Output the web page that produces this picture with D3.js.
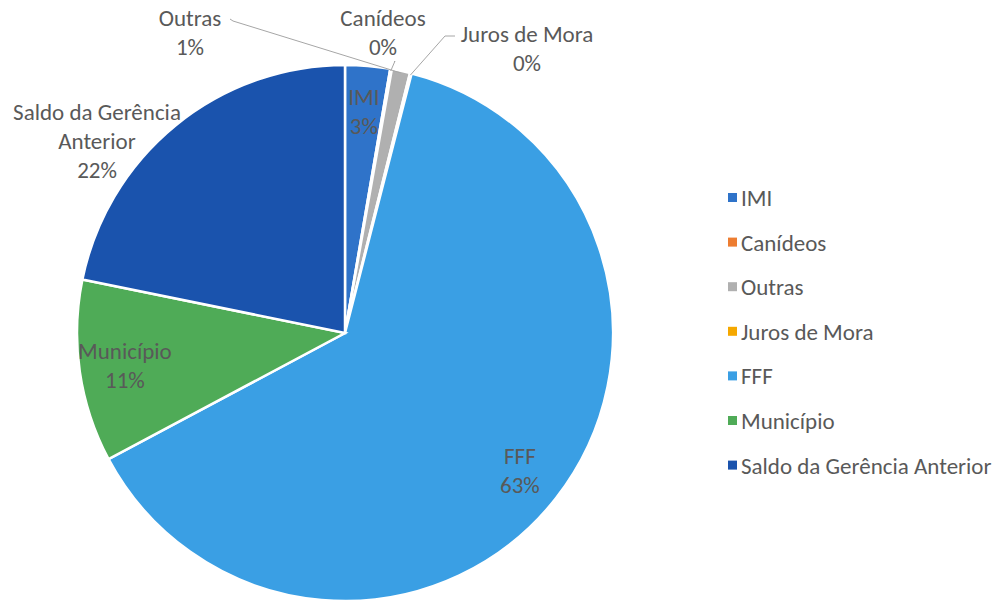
<!DOCTYPE html>
<html>
<head>
<meta charset="utf-8">
<script src="https://cdn.jsdelivr.net/npm/d3@7"></script>
<style>
  body { margin: 0; background: #fff; }
  text { font-family: Carlito, Calibri, Lato, "Open Sans", sans-serif; fill: #595959; }
</style>
</head>
<body>
<div class="pie-chart"></div>
<script>

// values (percent of total)
var categories = ["IMI", "Canídeos", "Outras", "Juros de Mora", "FFF", "Município", "Saldo da Gerência Anterior"];
var values = [2.7, 0.1, 1.1, 0.1, 63.2, 11.0, 21.8];
var colors = ["#2f73c9", "#ed7d31", "#b0b0b0", "#f5a800", "#3a9fe4", "#4fab57", "#1a53ad"];

// how each label is shown: inside the slice or outside with a leader line
var labelLines = {
  "Saldo da Gerência Anterior": ["Saldo da Gerência", "Anterior"]
};
var outsideLabels = {
  "Outras":        {dx: -155, dy: -301, knee: [-112, -312], end: [-115, -314]},
  "Canídeos":      {dx: 38,   dy: -301, knee: [50, -272], end: [49, -271]},
  "Juros de Mora": {dx: 182,  dy: -285, knee: [100, -297], end: [110, -297]},
  "Saldo da Gerência Anterior": {dx: -248, dy: -192}
};

var width = 1006, height = 603;
var cx = 345, cy = 333, radius = 268;
var fontSize = "23px";

var svg = d3.select(".pie-chart")
  .append("svg")
    .attr("width", width)
    .attr("height", height);

var g = svg.append("g")
  .attr("transform", "translate(" + cx + "," + cy + ")");

var data = categories.map(function(c, i) {
  return {name: c, value: values[i], color: colors[i]};
});
var total = d3.sum(values);
var pct = d3.format(".0%");

var pie = d3.pie()
  .sort(null)
  .value(function(d) { return d.value; });

var arc = d3.arc().innerRadius(0).outerRadius(radius);
var labelArc = d3.arc().innerRadius(radius * 0.83).outerRadius(radius * 0.83);
var edgeArc = d3.arc().innerRadius(radius - 2).outerRadius(radius - 2);

var arcs = pie(data);

g.selectAll("path.slice")
  .data(arcs)
  .enter()
  .append("path")
    .attr("class", "slice")
    .attr("d", arc)
    .style("fill", function(d) { return d.data.color; })
    .style("stroke", "#fff")
    .style("stroke-width", 2.5);

// leader lines
g.selectAll("polyline.leader")
  .data(arcs.filter(function(d) { return outsideLabels[d.data.name] && outsideLabels[d.data.name].knee; }))
  .enter()
  .append("polyline")
    .attr("class", "leader")
    .attr("points", function(d) {
      var o = outsideLabels[d.data.name];
      var p = edgeArc.centroid(d);
      return [p, o.knee, o.end].map(function(q) { return q.join(","); }).join(" ");
    })
    .style("fill", "none")
    .style("stroke", "#a6a6a6")
    .style("stroke-width", 1);

// labels
var labels = g.selectAll("text.label")
  .data(arcs)
  .enter()
  .append("text")
    .attr("class", "label")
    .attr("text-anchor", "middle")
    .style("font-size", fontSize)
    .attr("transform", function(d) {
      var o = outsideLabels[d.data.name];
      var p = o ? [o.dx, o.dy] : labelArc.centroid(d);
      return "translate(" + p[0] + "," + p[1] + ")";
    });

labels.each(function(d) {
  var lines = (labelLines[d.data.name] || [d.data.name]).concat([pct(d.data.value / total)]);
  var el = d3.select(this);
  var lh = 29;
  var y0 = -(lines.length - 1) * lh / 2 + 8;
  lines.forEach(function(t, i) {
    el.append("tspan")
      .attr("x", 0)
      .attr("y", y0 + i * lh)
      .text(t);
  });
});

// legend
var legend = svg.append("g")
  .attr("transform", "translate(728,198)");

var row = legend.selectAll("g")
  .data(data)
  .enter()
  .append("g")
    .attr("transform", function(d, i) { return "translate(0," + (i * 44.6) + ")"; });

row.append("rect")
  .attr("x", 0)
  .attr("y", -5)
  .attr("width", 9)
  .attr("height", 9)
  .style("fill", function(d) { return d.color; });

row.append("text")
  .attr("x", 13)
  .attr("y", 8)
  .style("font-size", fontSize)
  .text(function(d) { return d.name; });

</script>
</body>
</html>
